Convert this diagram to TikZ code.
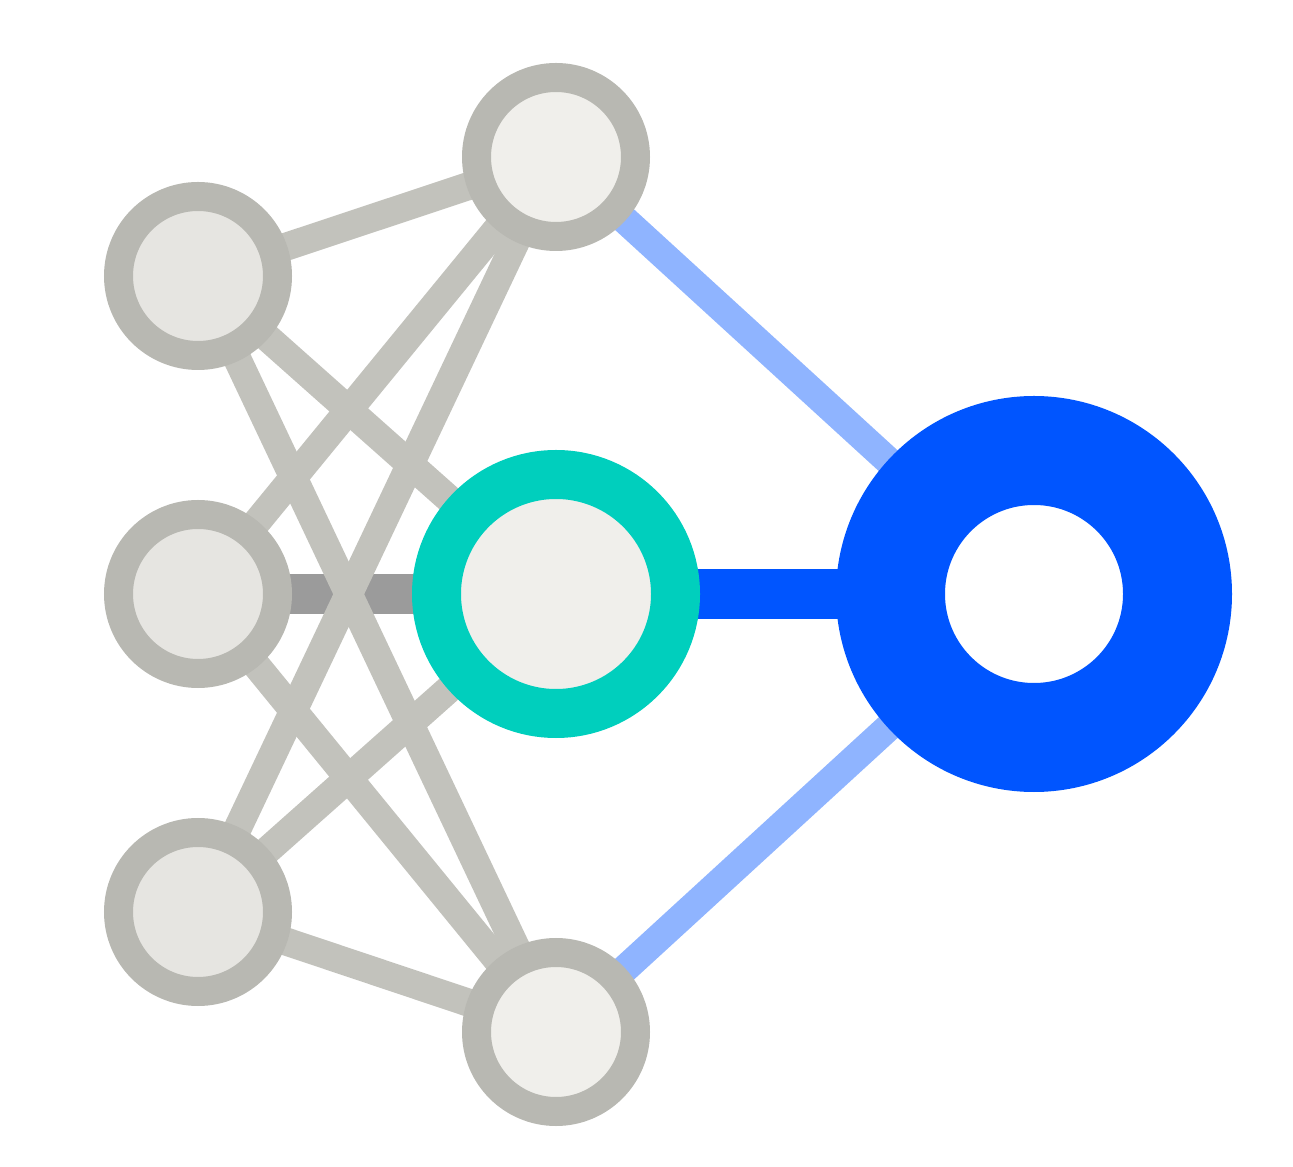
\documentclass[tikz,border=0pt]{standalone}
\usetikzlibrary{backgrounds}
\definecolor{ringgray}{HTML}{B8B8B2}
\definecolor{leftfill}{HTML}{E6E5E1}
\definecolor{midfill}{HTML}{F0EFEB}
\definecolor{wiregray}{HTML}{C2C2BC}
\definecolor{darkwire}{HTML}{9B9B9B}
\definecolor{teal}{HTML}{00CFBD}
\definecolor{outblue}{HTML}{0055FF}
\definecolor{lightblue}{HTML}{8FB4FF}
\begin{document}
\begin{tikzpicture}[
		neuron/.style={circle, draw=ringgray, line width=0.29cm, inner sep=0pt, minimum size=1.59cm},
		hidden/.style={circle, draw=teal, fill=midfill, line width=0.49cm, inner sep=0pt, minimum size=2.39cm},
		output/.style={circle, draw=outblue, fill=white, line width=1.09cm, inner sep=0pt, minimum size=2.87cm},
		wire/.style={wiregray, line width=0.28cm},
		strongwire/.style={darkwire, line width=0.40cm},
		outwire/.style={lightblue, line width=0.28cm},
		mainwire/.style={outblue, line width=0.50cm}
		]
		\useasboundingbox (0,0) rectangle (12.93,-11.67);
		\node [neuron, fill=leftfill] (in1) at (1.98,-2.76) {};
		\node [neuron, fill=leftfill] (in2) at (1.98,-5.94) {};
		\node [neuron, fill=leftfill] (in3) at (1.98,-9.12) {};
		\node [neuron, fill=midfill] (top) at (5.56,-1.57) {};
		\node [hidden] (mid) at (5.56,-5.94) {};
		\node [neuron, fill=midfill] (bot) at (5.56,-10.32) {};
		\node [output] (out) at (10.34,-5.94) {};
		\begin{scope}[on background layer]
			\draw [strongwire] (in2.center) -- (mid.center);
			\foreach \i in {1,2,3}
				{
				\draw [wire] (in\i.center) -- (top.center);
				\draw [wire] (in\i.center) -- (bot.center);
				}
			\draw [wire] (in1.center) -- (mid.center);
			\draw [wire] (in3.center) -- (mid.center);
			\draw [outwire] (top.center) -- (out.center);
			\draw [outwire] (bot.center) -- (out.center);
			\draw [mainwire] (mid.center) -- (out.center);
		\end{scope}
	\end{tikzpicture}
\end{document}
